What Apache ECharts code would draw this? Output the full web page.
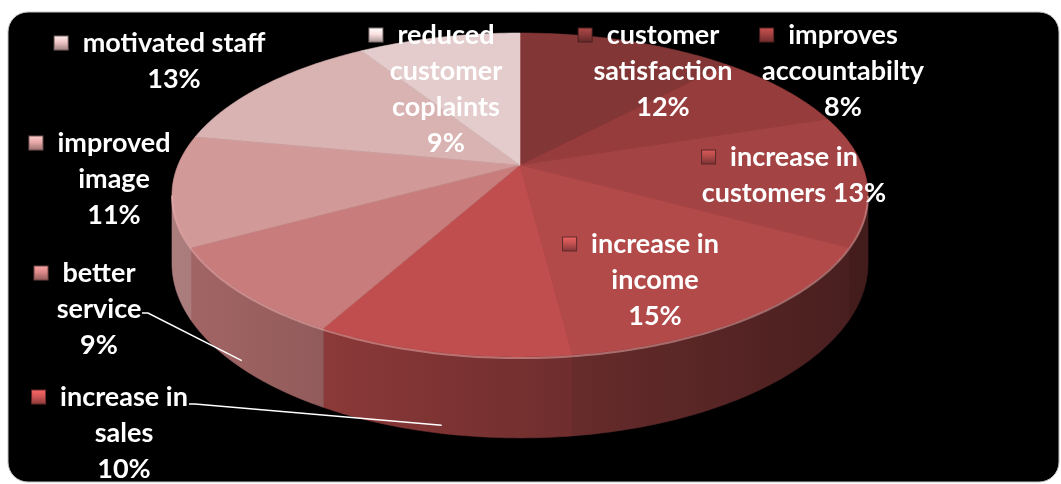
<!DOCTYPE html>
<html><head><meta charset="utf-8">
<script src="https://cdn.jsdelivr.net/npm/echarts@6/dist/echarts.min.js"></script>
<style>html,body{margin:0;padding:0;background:#fff}#c{width:1061px;height:484px}</style>
</head><body><div id="c"></div>
<script>
// ---------- data ----------
const categories = ['customer satisfaction','improves accountabilty','increase in customers','increase in income','increase in sales','better service','improved image','motivated staff','reduced customer coplaints'];
const values = [12, 8, 13, 15, 10, 9, 11, 13, 9];
// label wording as wrapped in the reference
const labelNames = ['customer\nsatisfaction','improves\naccountabilty','increase in\ncustomers','increase in\nincome','increase in\nsales','better\nservice','improved\nimage','motivated staff','reduced\ncustomer\ncoplaints'];
const pctSep = ['\n','\n',' ','\n','\n','\n','\n','\n','\n'];

// ---------- styles / layout ----------
const sliceColors = ['#833636','#973c3c','#a44343','#b24a4a','#c04e4e','#c87c7c','#d29999','#d9b2b2','#e4cccc'];
const labelAnchors = [[663,35],[843,35],[794,157],[655,244],[124,397],[99,273],[114,143],[174,43],[446,35]];
const leaderFrom = [null,null,null,null,[189,404],[142,313],null,null,null];
const CX = 520, CY = 165, A = 342, B = 156.4, H = 66, P = 0.185;
const TH_S = Math.acos(-P) * 180 / Math.PI; // silhouette angle
const FONT = 'bold 27px Lato, "Open Sans", sans-serif';
const LH = 36;

const total = values.reduce((s, v) => s + v, 0);
const starts = [];
values.reduce((acc, v, i) => { starts[i] = acc; return acc + v / total * 360; }, 0);

function proj(theta, h, r) {
  if (r === undefined) r = 1;
  const t = theta * Math.PI / 180;
  const u = r * Math.sin(t), v = -r * Math.cos(t);
  const d = 1 - P * v;
  return [CX + A * u / d, CY + (B * v + H * h) / d];
}
function shade(hex, k) {
  const n = parseInt(hex.slice(1), 16);
  const f = c => Math.min(255, Math.round(c * k));
  return 'rgb(' + f((n >> 16) & 255) + ',' + f((n >> 8) & 255) + ',' + f(n & 255) + ')';
}
function arc(a1, a2, h) {
  const pts = [];
  const n = Math.max(2, Math.ceil(a2 - a1));
  for (let j = 0; j <= n; j++) pts.push(proj(a1 + (a2 - a1) * j / n, h));
  return pts;
}
function span(i) { return [starts[i], starts[i] + values[i] / total * 360]; }

const seriesData = values.map((v, i) => ({ name: categories[i], value: v }));

const wallSeries = {
  type: 'custom', coordinateSystem: 'none', z: 1, silent: true, data: seriesData,
  renderItem: function (params) {
    const i = params.dataIndex;
    const [a1, a2] = span(i);
    const lo = Math.max(a1, TH_S), hi = Math.min(a2, 360 - TH_S);
    if (lo >= hi) return { type: 'group', children: [] };
    const pts = arc(lo, hi, 0).concat(arc(lo, hi, 1).reverse());
    const grad = new echarts.graphic.LinearGradient(CX - 348, 0, CX + 348, 0, [
      { offset: 0, color: shade(sliceColors[i], 0.82) },
      { offset: 1, color: shade(sliceColors[i], 0.40) }
    ], true);
    return { type: 'polygon', shape: { points: pts }, style: { fill: grad, stroke: grad, lineWidth: 0.6 } };
  }
};

const topSeries = {
  type: 'custom', coordinateSystem: 'none', z: 2, silent: true, data: seriesData,
  renderItem: function (params) {
    const i = params.dataIndex;
    const [a1, a2] = span(i);
    const pts = [proj(0, 0, 0)].concat(arc(a1, a2, 0));
    const children = [{ type: 'polygon', shape: { points: pts }, style: { fill: sliceColors[i], stroke: sliceColors[i], lineWidth: 0.6 } }];
    const lo = Math.max(a1, TH_S), hi = Math.min(a2, 360 - TH_S);
    if (lo < hi) {
      children.push({ type: 'polyline', shape: { points: arc(lo, hi, 0.015) },
        style: { stroke: 'rgba(255,190,190,0.45)', lineWidth: 2, fill: null } });
    }
    return { type: 'group', children: children };
  }
};

const labelSeries = {
  type: 'custom', coordinateSystem: 'none', z: 3, silent: true, data: seriesData,
  renderItem: function (params) {
    const i = params.dataIndex;
    const pct = Math.round(values[i] / total * 100) + '%';
    const full = labelNames[i] + pctSep[i] + pct;
    const lines = full.split('\n');
    lines[0] = '{m|}{g|}' + lines[0] + '{p|}';
    const [lx, ly] = labelAnchors[i];
    const children = [];
    const lf = leaderFrom[i];
    if (lf) {
      const [a1, a2] = span(i);
      const end = proj((a1 + a2) / 2, 0.9);
      children.push({ type: 'polyline', shape: { points: [lf, [lf[0] + 6, lf[1]], end] },
        style: { stroke: '#ffffff', lineWidth: 1.5, fill: null } });
    }
    const markerFill = new echarts.graphic.LinearGradient(0, 0, 0, 1, [
      { offset: 0, color: shade(sliceColors[i], 1.35) },
      { offset: 0.45, color: shade(sliceColors[i], 1.1) },
      { offset: 1, color: shade(sliceColors[i], 0.72) }
    ]);
    children.push({
      type: 'text', x: lx, y: ly - LH / 2,
      style: {
        text: lines.join('\n'), fill: '#ffffff', font: FONT, align: 'center', verticalAlign: 'top', lineHeight: LH,
        rich: {
          m: { width: 13, height: 13, backgroundColor: markerFill, borderColor: shade(sliceColors[i], 0.55), borderWidth: 1, lineHeight: LH },
          g: { width: 15, height: 13, lineHeight: LH },
          p: { width: 28, height: 13, lineHeight: LH }
        }
      }
    });
    return { type: 'group', children: children };
  }
};

const chart = echarts.init(document.getElementById('c'), null, { renderer: 'canvas' });
chart.setOption({
  backgroundColor: '#ffffff',
  animation: false,
  graphic: [{ type: 'rect', z: -100, shape: { x: 8, y: 12, width: 1051, height: 470, r: 20 },
    style: { fill: '#000000', stroke: '#c4c4c4', lineWidth: 1 } }],
  series: [wallSeries, topSeries, labelSeries]
});
</script></body></html>
